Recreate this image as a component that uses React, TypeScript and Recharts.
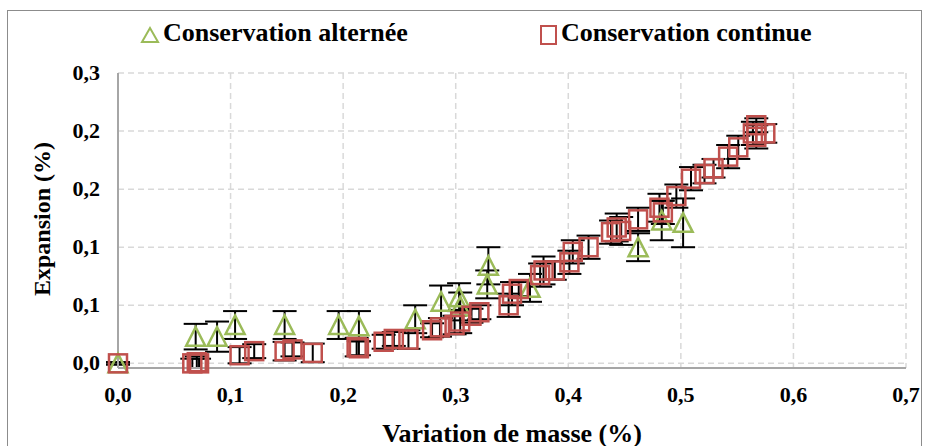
import React from 'react';
import { ScatterChart, Scatter, XAxis, YAxis, CartesianGrid, ErrorBar } from 'recharts';

// Conservation alternée (triangles)
const ALT_X = [0, 0.069, 0.088, 0.104, 0.148, 0.196, 0.214, 0.264, 0.287, 0.303, 0.304, 0.329, 0.328, 0.366, 0.462, 0.483, 0.502];
const ALT_Y = [0, 0.023, 0.023, 0.033, 0.033, 0.033, 0.032, 0.038, 0.053, 0.057, 0.049, 0.084, 0.068, 0.065, 0.1, 0.123, 0.121];
const ALT_ERR = [0.001, 0.011, 0.013, 0.012, 0.012, 0.012, 0.013, 0.012, 0.014, 0.012, 0.012, 0.016, 0.012, 0.012, 0.012, 0.017, 0.021];

// Conservation continue (carrés)
const CONT_X = [0, 0.066, 0.07, 0.072, 0.108, 0.121, 0.148, 0.155, 0.173, 0.212, 0.214, 0.236, 0.245, 0.258, 0.279, 0.286, 0.299, 0.304, 0.314, 0.321, 0.347, 0.35, 0.356, 0.375, 0.378, 0.388, 0.401, 0.404, 0.418, 0.438, 0.443, 0.447, 0.462, 0.481, 0.484, 0.496, 0.509, 0.521, 0.529, 0.542, 0.551, 0.564, 0.567, 0.567, 0.575];
const CONT_Y = [0, 0, 0.001, 0, 0.007, 0.0105, 0.0105, 0.012, 0.009, 0.014, 0.013, 0.0186, 0.021, 0.0205, 0.0285, 0.031, 0.033, 0.036, 0.041, 0.044, 0.05, 0.06, 0.064, 0.076, 0.08, 0.08, 0.087, 0.096, 0.1, 0.113, 0.117, 0.114, 0.124, 0.134, 0.13, 0.144, 0.159, 0.163, 0.168, 0.178, 0.186, 0.198, 0.205, 0.195, 0.198];
const CONT_ERR = [0.001, 0.004, 0.005, 0.004, 0.007, 0.006, 0.008, 0.006, 0.008, 0.008, 0.006, 0.006, 0.006, 0.008, 0.006, 0.008, 0.008, 0.01, 0.006, 0.006, 0.01, 0.01, 0.006, 0.01, 0.012, 0.008, 0.01, 0.01, 0.01, 0.01, 0.012, 0.012, 0.01, 0.012, 0.01, 0.01, 0.01, 0.008, 0.008, 0.01, 0.01, 0.01, 0.006, 0.01, 0.008];

const X_TICKS = [0, 0.1, 0.2, 0.3, 0.4, 0.5, 0.6, 0.7];
const X_TICK_LABELS = ['0,0', '0,1', '0,2', '0,3', '0,4', '0,5', '0,6', '0,7'];
const Y_TICKS = [0, 0.05, 0.1, 0.15, 0.2, 0.25];
const Y_TICK_LABELS = ['0,0', '0,1', '0,1', '0,2', '0,2', '0,3'];

const altData = ALT_X.map((x, i) => ({ x, y: ALT_Y[i], e: ALT_ERR[i] }));
const contData = CONT_X.map((x, i) => ({ x, y: CONT_Y[i], e: CONT_ERR[i] }));

const GREEN = '#9bbb59';
const RED = '#c0504d';
const FONT = 'Liberation Serif, DejaVu Serif, serif';

const labelFor = (ticks: number[], labels: string[], v: number) => {
  const i = ticks.findIndex((t) => Math.abs(t - v) < 1e-9);
  return i >= 0 ? labels[i] : '';
};

const XTick = (props: any) => {
  const { x, y, payload } = props;
  return (
    <text x={x} y={y + 10} textAnchor="middle" fontFamily={FONT} fontWeight="bold" fontSize={22} fill="#000">
      {labelFor(X_TICKS, X_TICK_LABELS, payload.value)}
    </text>
  );
};

const YTick = (props: any) => {
  const { x, y, payload } = props;
  return (
    <text x={x} y={y} dy={7} textAnchor="end" fontFamily={FONT} fontWeight="bold" fontSize={22} fill="#000">
      {labelFor(Y_TICKS, Y_TICK_LABELS, payload.value)}
    </text>
  );
};

const Triangle = (props: any) => {
  const { cx, cy } = props;
  if (cx == null || cy == null) return null;
  return (
    <polygon
      points={`${cx},${cy - 9.5} ${cx - 9.5},${cy + 9} ${cx + 9.5},${cy + 9}`}
      fill="none"
      stroke={GREEN}
      strokeWidth={2.5}
    />
  );
};

const Square = (props: any) => {
  const { cx, cy } = props;
  if (cx == null || cy == null) return null;
  return <rect x={cx - 9} y={cy - 9} width={18} height={18} fill="none" stroke={RED} strokeWidth={2.5} />;
};

export default function App() {
  return (
    <div style={{ position: 'fixed', left: 0, top: 0, width: 926, height: 446, background: '#fff', overflow: 'hidden' }}>
      <div style={{ position: 'absolute', left: 7, top: 10, width: 913, height: 445, border: '1.5px solid #8c8c8c' }} />

      {/* légende */}
      <div style={{ position: 'absolute', left: 140, top: 18, display: 'flex', alignItems: 'center', fontFamily: FONT, fontWeight: 'bold', fontSize: 26, color: '#000' }}>
        <svg width={20} height={20} style={{ marginRight: 3, marginTop: 4 }}>
          <polygon points="10,3 2,17 18,17" fill="none" stroke={GREEN} strokeWidth={2} />
        </svg>
        <span>Conservation alternée</span>
      </div>
      <div style={{ position: 'absolute', left: 538, top: 18, display: 'flex', alignItems: 'center', fontFamily: FONT, fontWeight: 'bold', fontSize: 26, color: '#000' }}>
        <svg width={20} height={22} style={{ marginRight: 3, marginTop: 4 }}>
          <rect x={3} y={2} width={15} height={18} fill="none" stroke={RED} strokeWidth={2} />
        </svg>
        <span>Conservation continue</span>
      </div>

      <div style={{ position: 'absolute', left: 0, top: 0 }}>
        <ScatterChart width={926} height={446} margin={{ top: 73, right: 20, bottom: 0, left: 10 }}>
          <CartesianGrid stroke="#d9d9d9" strokeWidth={1.5} strokeDasharray="6 4" />
          <XAxis
            type="number"
            dataKey="x"
            domain={[0, 0.7]}
            ticks={X_TICKS}
            tick={<XTick />}
            tickLine={false}
            tickSize={0}
            tickMargin={24}
            axisLine={{ stroke: '#a6a6a6', strokeWidth: 2 }}
            height={78}
          />
          <YAxis
            type="number"
            dataKey="y"
            domain={[0, 0.25]}
            ticks={Y_TICKS}
            tick={<YTick />}
            tickLine={false}
            tickSize={0}
            tickMargin={18}
            axisLine={{ stroke: '#a6a6a6', strokeWidth: 2 }}
            width={108}
          />
          <Scatter data={altData} shape={<Triangle />} isAnimationActive={false}>
            <ErrorBar dataKey="e" direction="y" width={12} stroke="#000" strokeWidth={2} />
          </Scatter>
          <Scatter data={contData} shape={<Square />} isAnimationActive={false}>
            <ErrorBar dataKey="e" direction="y" width={12} stroke="#000" strokeWidth={2} />
          </Scatter>
          <text x={512} y={433} textAnchor="middle" dominantBaseline="central" fontFamily={FONT} fontWeight="bold" fontSize={26} fill="#000">
            Variation de masse (%)
          </text>
          <text x={42} y={219} transform="rotate(-90 42 219)" textAnchor="middle" dominantBaseline="central" fontFamily={FONT} fontWeight="bold" fontSize={24} fill="#000">
            Expansion (%)
          </text>
        </ScatterChart>
      </div>
    </div>
  );
}
